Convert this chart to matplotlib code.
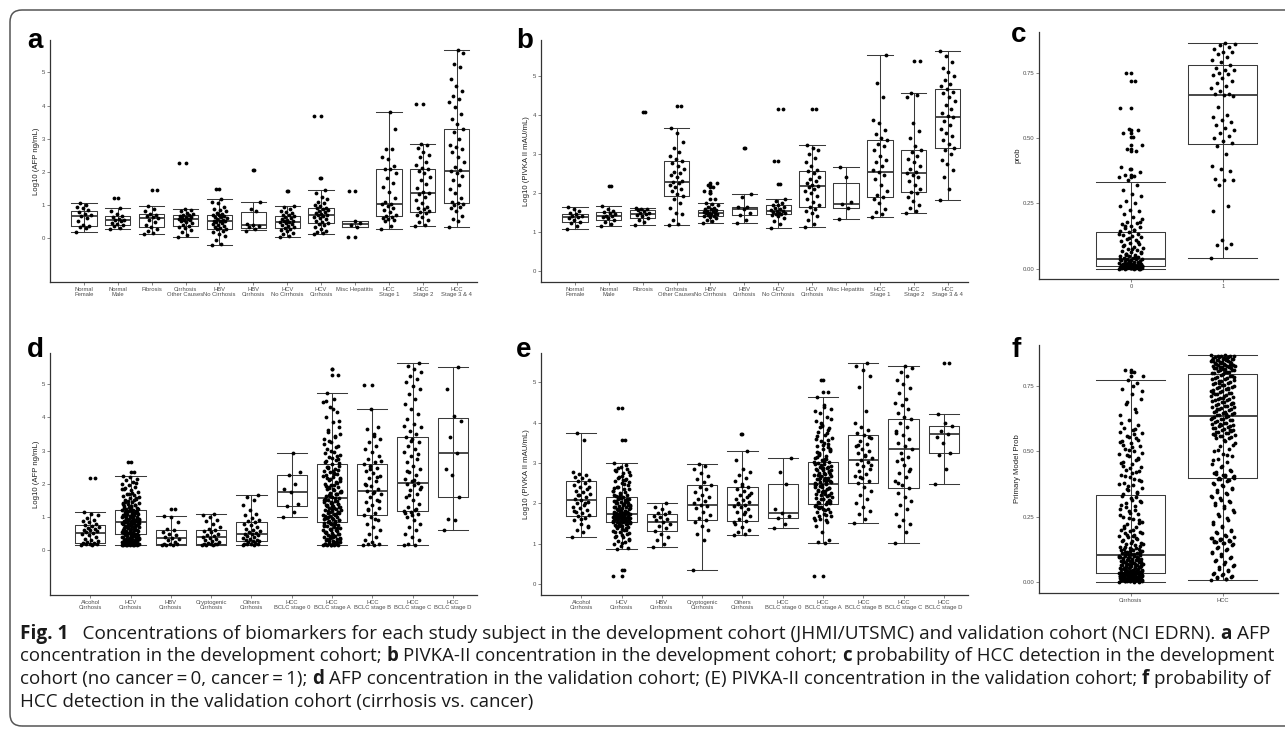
import numpy as np
import matplotlib
matplotlib.use("Agg")
import matplotlib.pyplot as plt
from matplotlib.patches import FancyBboxPatch
from matplotlib.transforms import IdentityTransform

# ---------------- DATA ----------------
a_categories = ["Normal\nFemale", "Normal\nMale", "Fibrosis", "Cirrhosis\nOther Causes", "HBV\nNo Cirrhosis",
                "HBV\nCirrhosis", "HCV\nNo Cirrhosis", "HCV\nCirrhosis", "Misc Hepatitis", "HCC\nStage 1",
                "HCC\nStage 2", "HCC\nStage 3 & 4"]
a_lo = [0.17, 0.27, 0.11, 0.03, -0.21, 0.24, 0.03, 0.13, 0.33, 0.27, 0.36, 0.32]
a_q1 = [0.36, 0.39, 0.33, 0.37, 0.28, 0.31, 0.29, 0.45, 0.33, 0.66, 0.79, 1.05]
a_med = [0.67, 0.53, 0.59, 0.56, 0.50, 0.38, 0.48, 0.69, 0.43, 1.04, 1.35, 2.03]
a_q3 = [0.82, 0.65, 0.72, 0.68, 0.70, 0.77, 0.66, 0.92, 0.52, 2.07, 2.08, 3.29]
a_hi = [1.05, 0.92, 0.96, 0.87, 1.18, 1.08, 0.98, 1.46, 0.52, 3.82, 2.83, 5.67]
a_nf = [0.17, 0.30, 0.33, 0.36, 0.40, 0.52, 0.60, 0.66, 0.68, 0.72, 0.78, 0.85, 0.90, 0.94, 1.00, 1.05]
a_nm = [0.27, 0.30, 0.36, 0.39, 0.42, 0.46, 0.50, 0.53, 0.55, 0.58, 0.62, 0.65, 0.72, 0.80, 0.92, 1.20]
a_fib = [0.11, 0.14, 0.22, 0.28, 0.33, 0.40, 0.48, 0.55, 0.59, 0.62, 0.66, 0.70, 0.72, 0.80, 0.88, 0.96, 1.45]
a_cir = [0.03, 0.10, 0.18, 0.25, 0.30, 0.34, 0.37, 0.40, 0.44, 0.48, 0.50, 0.53, 0.55, 0.56, 0.58, 0.60,
         0.62, 0.64, 0.66, 0.68, 0.70, 0.73, 0.76, 0.80, 0.84, 0.87, 2.25]
a_hbv_nc = [-0.21, -0.18, -0.05, 0.05, 0.12, 0.18, 0.22, 0.26, 0.28, 0.30, 0.33, 0.36, 0.40, 0.42, 0.45,
            0.48, 0.50, 0.50, 0.52, 0.55, 0.58, 0.60, 0.62, 0.64, 0.66, 0.68, 0.70, 0.72, 0.75, 0.80, 0.85,
            0.88, 0.95, 1.05, 1.10, 1.18, 1.48]
a_hbv_c = [0.22, 0.28, 0.32, 0.36, 0.38, 0.42, 0.80, 0.88, 1.08, 2.05]
a_hcv_nc = [0.03, 0.06, 0.12, 0.16, 0.20, 0.24, 0.28, 0.30, 0.33, 0.36, 0.40, 0.42, 0.45, 0.47, 0.48, 0.50,
            0.52, 0.55, 0.58, 0.60, 0.62, 0.65, 0.68, 0.70, 0.74, 0.78, 0.82, 0.88, 0.95, 0.98, 1.42]
a_hcv_c = [0.13, 0.15, 0.18, 0.22, 0.28, 0.32, 0.38, 0.42, 0.45, 0.48, 0.52, 0.56, 0.60, 0.64, 0.66, 0.68,
           0.70, 0.72, 0.75, 0.78, 0.82, 0.85, 0.88, 0.90, 0.92, 0.96, 1.00, 1.05, 1.10, 1.18, 1.25, 1.35,
           1.46, 1.82, 3.67]
a_misc = [0.03, 0.33, 0.40, 0.45, 0.52, 1.42]
a_hcc1 = [0.27, 0.35, 0.50, 0.55, 0.58, 0.60, 0.62, 0.66, 0.70, 0.78, 0.85, 0.92, 0.98, 1.02, 1.04, 1.08,
          1.20, 1.38, 1.55, 1.65, 1.80, 1.95, 2.07, 2.07, 2.18, 2.40, 2.45, 2.70, 2.70, 3.28, 3.82]
a_hcc2 = [0.36, 0.40, 0.48, 0.55, 0.62, 0.70, 0.76, 0.79, 0.82, 0.86, 0.90, 0.95, 1.05, 1.15, 1.25, 1.32,
          1.35, 1.40, 1.50, 1.62, 1.75, 1.85, 1.95, 2.02, 2.08, 2.10, 2.20, 2.30, 2.45, 2.52, 2.60, 2.72,
          2.80, 2.83, 4.05]
a_hcc34 = [0.32, 0.50, 0.58, 0.65, 0.80, 0.90, 0.95, 1.00, 1.04, 1.06, 1.10, 1.20, 1.35, 1.48, 1.60, 1.75,
           1.88, 1.95, 2.03, 2.05, 2.15, 2.30, 2.45, 2.60, 2.68, 2.75, 2.82, 3.00, 3.20, 3.29, 3.45, 3.60,
           3.75, 3.95, 4.10, 4.20, 4.30, 4.45, 4.60, 4.80, 5.15, 5.25, 5.60, 5.67]
a_points = [a_nf, a_nm, a_fib, a_cir, a_hbv_nc, a_hbv_c, a_hcv_nc, a_hcv_c, a_misc, a_hcc1, a_hcc2, a_hcc34]
a_outliers = [[], [1.20], [1.45], [2.25], [1.48], [2.05], [1.42], [1.82, 3.67], [0.03, 1.42], [], [4.05], []]

b_lo = [1.07, 1.15, 1.19, 1.18, 1.24, 1.24, 1.11, 1.14, 1.34, 1.38, 1.50, 1.81]
b_q1 = [1.27, 1.32, 1.35, 1.93, 1.41, 1.44, 1.45, 1.65, 1.62, 1.89, 2.03, 3.16]
b_med = [1.39, 1.40, 1.46, 2.29, 1.50, 1.60, 1.54, 2.17, 1.72, 2.54, 2.51, 3.95]
b_q3 = [1.45, 1.52, 1.56, 2.82, 1.57, 1.65, 1.68, 2.56, 2.26, 3.35, 3.09, 4.67]
b_hi = [1.63, 1.66, 1.62, 3.67, 1.75, 1.97, 1.85, 3.23, 2.67, 5.53, 4.55, 5.65]
b_nf = [1.07, 1.15, 1.22, 1.27, 1.30, 1.35, 1.38, 1.40, 1.42, 1.45, 1.50, 1.55, 1.60, 1.63]
b_nm = [1.15, 1.20, 1.26, 1.32, 1.35, 1.38, 1.40, 1.42, 1.45, 1.50, 1.52, 1.55, 1.60, 1.66, 2.18]
b_fib = [1.19, 1.25, 1.30, 1.35, 1.40, 1.44, 1.46, 1.48, 1.50, 1.54, 1.56, 1.58, 1.60, 1.62, 4.08]
b_cir = [1.18, 1.20, 1.30, 1.45, 1.50, 1.62, 1.75, 1.85, 1.93, 1.98, 2.05, 2.10, 2.15, 2.20, 2.25, 2.29,
         2.32, 2.40, 2.45, 2.50, 2.55, 2.62, 2.70, 2.78, 2.82, 2.88, 2.95, 3.05, 3.15, 3.30, 3.55, 3.67, 4.22]
b_hbv_nc = [1.24, 1.28, 1.32, 1.35, 1.38, 1.40, 1.41, 1.43, 1.45, 1.47, 1.48, 1.50, 1.50, 1.52, 1.53,
            1.55, 1.56, 1.58, 1.60, 1.62, 1.65, 1.68, 1.72, 1.75, 1.85, 2.00, 2.05, 2.15, 2.20, 2.26]
b_hbv_c = [1.24, 1.30, 1.44, 1.50, 1.60, 1.64, 1.65, 1.90, 1.97, 3.16]
b_hcv_nc = [1.11, 1.20, 1.28, 1.35, 1.40, 1.43, 1.45, 1.47, 1.49, 1.50, 1.52, 1.54, 1.55, 1.57, 1.60,
            1.62, 1.65, 1.68, 1.70, 1.75, 1.80, 1.85, 2.22, 2.83, 4.14]
b_hcv_c = [1.14, 1.20, 1.30, 1.40, 1.50, 1.55, 1.60, 1.65, 1.70, 1.78, 1.85, 1.92, 2.00, 2.05, 2.10, 2.15,
           2.17, 2.20, 2.25, 2.30, 2.35, 2.42, 2.50, 2.56, 2.60, 2.70, 2.80, 2.90, 3.00, 3.10, 3.15, 3.23, 4.15]
b_misc = [1.34, 1.62, 1.72, 1.78, 2.42, 2.67]
b_hcc1 = [1.38, 1.45, 1.52, 1.58, 1.75, 1.85, 1.89, 1.95, 2.05, 2.20, 2.35, 2.45, 2.54, 2.60, 2.70, 2.80,
          2.85, 2.95, 3.10, 3.20, 3.25, 3.35, 3.40, 3.50, 3.62, 3.80, 3.88, 4.46, 4.83, 5.53]
b_hcc2 = [1.50, 1.55, 1.62, 1.70, 1.80, 1.90, 2.00, 2.03, 2.10, 2.20, 2.30, 2.40, 2.45, 2.51, 2.55, 2.62,
          2.70, 2.80, 2.88, 2.95, 3.05, 3.09, 3.20, 3.40, 3.60, 3.80, 4.45, 4.50, 4.55, 5.37]
b_hcc34 = [1.81, 2.10, 2.40, 2.60, 2.75, 2.85, 3.00, 3.10, 3.16, 3.25, 3.35, 3.45, 3.55, 3.65, 3.75, 3.85,
           3.95, 3.98, 4.05, 4.15, 4.25, 4.35, 4.45, 4.55, 4.60, 4.67, 4.75, 4.80, 4.90, 5.00, 5.10, 5.20,
           5.35, 5.50, 5.65]
b_points = [b_nf, b_nm, b_fib, b_cir, b_hbv_nc, b_hbv_c, b_hcv_nc, b_hcv_c, b_misc, b_hcc1, b_hcc2, b_hcc34]
b_outliers = [[], [2.18], [4.08], [4.22], [1.85, 2.00, 2.05, 2.15, 2.20, 2.26], [3.16], [2.22, 2.83, 4.14],
              [4.15], [], [], [5.37], []]

c_categories = ["0", "1"]
c_lo = [0.0, 0.040]
c_q1 = [0.009, 0.477]
c_med = [0.037, 0.666]
c_q3 = [0.140, 0.778]
c_hi = [0.332, 0.864]
c_no_cancer = [0.000, 0.000, 0.001, 0.001, 0.002, 0.002, 0.003, 0.003, 0.004, 0.004, 0.005, 0.005, 0.006,
               0.006, 0.007, 0.007, 0.008, 0.008, 0.009, 0.009, 0.010, 0.010, 0.011, 0.012, 0.013, 0.014,
               0.015, 0.016, 0.017, 0.018, 0.019, 0.020, 0.021, 0.022, 0.024, 0.026, 0.028, 0.030, 0.032,
               0.034, 0.036, 0.037, 0.038, 0.040, 0.042, 0.045, 0.048, 0.050, 0.053, 0.056, 0.060, 0.064,
               0.068, 0.072, 0.076, 0.080, 0.085, 0.090, 0.095, 0.100, 0.105, 0.110, 0.115, 0.120, 0.125,
               0.130, 0.135, 0.140, 0.145, 0.150, 0.155, 0.160, 0.165, 0.170, 0.175, 0.180, 0.190, 0.200,
               0.210, 0.220, 0.225, 0.240, 0.250, 0.260, 0.280, 0.285, 0.300, 0.320, 0.340, 0.350, 0.355,
               0.360, 0.370, 0.380, 0.390, 0.450, 0.460, 0.475, 0.505, 0.520, 0.530, 0.535, 0.615, 0.720,
               0.750, 0.001, 0.003, 0.005, 0.007, 0.009, 0.012, 0.015, 0.018, 0.022, 0.027, 0.033, 0.041,
               0.052, 0.063, 0.075, 0.088, 0.102, 0.118, 0.133, 0.148, 0.162, 0.178, 0.002, 0.004, 0.006,
               0.008, 0.011, 0.014, 0.019, 0.025, 0.031, 0.039, 0.046, 0.058]
c_cancer = [0.04, 0.08, 0.09, 0.095, 0.11, 0.22, 0.24, 0.32, 0.34, 0.34, 0.345, 0.375, 0.38, 0.395, 0.44,
            0.47, 0.48, 0.49, 0.50, 0.51, 0.52, 0.53, 0.54, 0.55, 0.56, 0.57, 0.58, 0.59, 0.62, 0.66, 0.665,
            0.67, 0.67, 0.68, 0.69, 0.70, 0.71, 0.72, 0.73, 0.74, 0.745, 0.75, 0.76, 0.76, 0.77, 0.78, 0.79,
            0.80, 0.81, 0.82, 0.83, 0.83, 0.84, 0.85, 0.855, 0.86, 0.864]
c_points = [c_no_cancer, c_cancer]
c_outliers = [[0.35, 0.36, 0.38, 0.45, 0.46, 0.475, 0.505, 0.52, 0.53, 0.615, 0.72, 0.75], []]

d_categories = ["Alcohol\nCirrhosis", "HCV\nCirrhosis", "HBV\nCirrhosis", "Cryptogenic\nCirrhosis",
                "Others\nCirrhosis", "HCC\nBCLC stage 0", "HCC\nBCLC stage A", "HCC\nBCLC stage B",
                "HCC\nBCLC stage C", "HCC\nBCLC stage D"]
d_lo = [0.17, 0.17, 0.17, 0.17, 0.17, 1.01, 0.17, 0.17, 0.17, 0.60]
d_q1 = [0.23, 0.49, 0.18, 0.18, 0.28, 1.34, 0.86, 1.06, 1.18, 1.60]
d_med = [0.51, 0.84, 0.37, 0.40, 0.48, 1.74, 1.56, 1.79, 2.03, 2.93]
d_q3 = [0.75, 1.20, 0.60, 0.60, 0.84, 2.25, 2.59, 2.59, 3.41, 3.99]
d_hi = [1.14, 2.23, 1.04, 1.08, 1.65, 2.92, 4.74, 4.24, 5.62, 5.52]
d_alc = [0.17, 0.17, 0.18, 0.18, 0.20, 0.22, 0.23, 0.25, 0.28, 0.30, 0.35, 0.40, 0.45, 0.48, 0.51, 0.55,
         0.58, 0.60, 0.62, 0.65, 0.68, 0.70, 0.72, 0.75, 0.80, 0.85, 0.88, 0.92, 0.98, 1.05, 1.10, 1.14, 2.17]
d_hcv = [0.17, 0.17, 0.17, 0.17, 0.17, 0.17, 0.18, 0.19, 0.20, 0.21, 0.22, 0.23, 0.24, 0.25, 0.26, 0.27,
         0.28, 0.29, 0.30, 0.31, 0.32, 0.33, 0.34, 0.35, 0.36, 0.38, 0.40, 0.42, 0.44, 0.46, 0.48, 0.49,
         0.50, 0.52, 0.54, 0.56, 0.58, 0.60, 0.62, 0.64, 0.66, 0.68, 0.70, 0.72, 0.74, 0.76, 0.78, 0.80,
         0.82, 0.84, 0.84, 0.86, 0.88, 0.90, 0.92, 0.94, 0.96, 0.98, 1.00, 1.02, 1.04, 1.06, 1.08, 1.10,
         1.12, 1.14, 1.16, 1.18, 1.20, 1.22, 1.25, 1.28, 1.31, 1.34, 1.37, 1.40, 1.43, 1.46, 1.50, 1.54,
         1.58, 1.62, 1.66, 1.70, 1.75, 1.80, 1.85, 1.90, 1.95, 2.00, 2.05, 2.10, 2.15, 2.20, 2.23, 2.35,
         2.65, 0.19, 0.23, 0.27, 0.31, 0.35, 0.41, 0.47, 0.53, 0.57, 0.63, 0.67, 0.73, 0.77, 0.83, 0.87,
         0.93, 0.97, 1.03, 1.07, 1.13, 1.17, 1.24, 1.33, 1.45, 1.56, 1.68, 1.83, 0.20, 0.26, 0.39, 0.51,
         0.59, 0.71, 0.79, 0.91, 0.99, 1.09, 1.19, 1.29, 1.41, 0.17, 0.17, 0.18, 0.21, 0.24, 0.28, 0.32,
         0.37, 0.43, 0.45, 0.50, 0.55, 0.61, 0.65, 0.69, 0.75, 0.81, 0.85, 0.89, 0.95, 1.01, 1.05, 1.11,
         1.15, 1.21, 1.27, 1.36, 1.48, 1.60, 1.73, 1.88, 2.02, 0.18, 0.22, 0.25, 0.30, 0.34, 0.42, 0.52,
         0.62, 0.72, 0.82, 0.92, 1.02, 1.12, 1.23, 1.38, 1.52]
d_hbv = [0.17, 0.17, 0.17, 0.18, 0.18, 0.20, 0.25, 0.30, 0.35, 0.37, 0.40, 0.45, 0.50, 0.55, 0.60, 0.65,
         0.85, 1.00, 1.04, 1.25]
d_cryp = [0.17, 0.17, 0.17, 0.18, 0.18, 0.19, 0.20, 0.22, 0.25, 0.28, 0.30, 0.35, 0.38, 0.40, 0.42, 0.45,
          0.50, 0.55, 0.58, 0.60, 0.65, 0.70, 0.80, 0.88, 0.92, 1.00, 1.05, 1.08]
d_oth = [0.17, 0.17, 0.18, 0.18, 0.19, 0.20, 0.22, 0.25, 0.27, 0.28, 0.30, 0.32, 0.35, 0.38, 0.40, 0.42,
         0.45, 0.48, 0.50, 0.52, 0.55, 0.58, 0.62, 0.65, 0.70, 0.75, 0.80, 0.84, 0.88, 0.92, 0.98, 1.05,
         1.10, 1.20, 1.35, 1.50, 1.60, 1.65]
d_b0 = [1.01, 1.15, 1.34, 1.40, 1.74, 1.85, 2.00, 2.25, 2.35, 2.92]
d_ba = [0.17, 0.17, 0.17, 0.17, 0.17, 0.18, 0.20, 0.22, 0.25, 0.28, 0.30, 0.33, 0.36, 0.40, 0.43, 0.46,
        0.50, 0.53, 0.56, 0.60, 0.63, 0.66, 0.70, 0.73, 0.76, 0.80, 0.83, 0.86, 0.89, 0.92, 0.95, 0.98,
        1.01, 1.04, 1.07, 1.10, 1.13, 1.16, 1.19, 1.22, 1.25, 1.28, 1.31, 1.34, 1.37, 1.40, 1.43, 1.46,
        1.49, 1.52, 1.56, 1.60, 1.64, 1.68, 1.72, 1.76, 1.80, 1.85, 1.90, 1.95, 2.00, 2.05, 2.10, 2.15,
        2.20, 2.25, 2.30, 2.35, 2.40, 2.45, 2.50, 2.55, 2.59, 2.65, 2.72, 2.80, 2.88, 2.96, 3.05, 3.15,
        3.25, 3.35, 3.45, 3.55, 3.70, 3.85, 4.00, 4.15, 4.30, 4.45, 4.55, 4.74, 5.28, 5.45, 0.19, 0.24,
        0.31, 0.38, 0.45, 0.52, 0.58, 0.65, 0.72, 0.78, 0.85, 0.91, 0.97, 1.03, 1.09, 1.15, 1.21, 1.27,
        1.33, 1.39, 1.45, 1.51, 1.58, 1.66, 1.74, 1.83, 1.93, 2.03, 2.13, 2.23, 2.33, 2.48, 2.62, 2.78,
        2.92, 3.10, 3.30, 3.50, 0.21, 0.35, 0.48, 0.62, 0.75, 0.88, 1.00, 1.12, 1.24, 1.36, 1.48, 1.62,
        1.78, 1.97, 2.18, 2.42, 0.17, 0.18, 0.23, 0.27, 0.34, 0.41, 0.55, 0.68, 0.81, 0.94, 1.06, 1.18,
        1.30, 1.42, 1.54, 1.70, 1.87, 2.08, 2.28, 2.52, 2.75, 3.00, 3.20, 3.40, 3.62, 3.90, 4.25, 4.50,
        0.26, 0.44, 0.60, 0.79, 0.96, 1.14, 1.32, 1.50, 1.69, 1.91, 2.16, 2.38, 2.68, 2.85]
d_bb = [0.17, 0.17, 0.18, 0.20, 0.25, 0.30, 0.40, 0.50, 0.60, 0.70, 0.80, 0.90, 1.00, 1.06, 1.12, 1.20,
        1.28, 1.36, 1.44, 1.52, 1.60, 1.68, 1.75, 1.79, 1.85, 1.92, 2.00, 2.08, 2.16, 2.24, 2.32, 2.40,
        2.48, 2.55, 2.59, 2.65, 2.75, 2.85, 2.95, 3.05, 3.15, 3.25, 3.35, 3.50, 3.65, 3.70, 4.24, 4.97,
        0.95, 1.25, 1.48, 1.72, 1.95, 2.20, 2.45, 2.70, 3.45]
d_bc = [0.17, 0.17, 0.20, 0.30, 0.40, 0.50, 0.60, 0.70, 0.80, 0.90, 1.00, 1.08, 1.14, 1.18, 1.22, 1.30,
        1.40, 1.50, 1.60, 1.70, 1.80, 1.90, 1.96, 2.00, 2.03, 2.08, 2.15, 2.25, 2.35, 2.45, 2.55, 2.65,
        2.75, 2.85, 2.95, 3.05, 3.15, 3.25, 3.35, 3.41, 3.50, 3.60, 3.70, 3.80, 3.95, 4.10, 4.25, 4.40,
        4.55, 4.70, 4.85, 4.95, 5.05, 5.15, 5.25, 5.35, 5.45, 5.55, 5.62, 1.05, 1.12, 1.25, 1.65, 1.85,
        2.10, 2.40, 2.90, 3.30, 3.75]
d_bd = [0.60, 0.90, 0.95, 1.60, 2.25, 2.45, 2.93, 3.40, 3.90, 4.05, 4.85, 5.52]
d_points = [d_alc, d_hcv, d_hbv, d_cryp, d_oth, d_b0, d_ba, d_bb, d_bc, d_bd]
d_outliers = [[2.17], [2.35, 2.65], [1.25], [], [], [], [5.28, 5.45], [4.97], [], []]

e_lo = [1.16, 0.86, 0.92, 0.36, 1.22, 1.40, 1.03, 1.51, 1.03, 2.47]
e_q1 = [1.69, 1.55, 1.31, 1.60, 1.57, 1.64, 1.98, 2.50, 2.38, 3.26]
e_med = [2.09, 1.74, 1.54, 1.97, 1.97, 1.77, 2.49, 3.07, 3.34, 3.71]
e_q3 = [2.55, 2.15, 1.73, 2.45, 2.41, 2.47, 3.03, 3.69, 4.10, 3.92]
e_hi = [3.74, 3.00, 2.02, 2.98, 3.31, 3.12, 4.63, 5.47, 5.41, 4.21]
e_alc = [1.16, 1.28, 1.35, 1.42, 1.50, 1.58, 1.65, 1.69, 1.72, 1.76, 1.80, 1.84, 1.88, 1.92, 1.96, 2.00,
         2.04, 2.09, 2.12, 2.16, 2.20, 2.24, 2.28, 2.32, 2.36, 2.40, 2.45, 2.50, 2.55, 2.58, 2.62, 2.66,
         2.70, 2.74, 2.78, 3.58, 3.74, 1.45, 1.62, 1.82, 2.02, 2.22, 2.42]
e_hcv = [0.19, 0.35, 0.86, 0.90, 0.95, 1.00, 1.05, 1.08, 1.12, 1.16, 1.20, 1.24, 1.28, 1.32, 1.35, 1.38,
         1.41, 1.44, 1.46, 1.48, 1.50, 1.52, 1.54, 1.55, 1.56, 1.58, 1.59, 1.60, 1.61, 1.62, 1.63, 1.64,
         1.65, 1.66, 1.67, 1.68, 1.69, 1.70, 1.71, 1.72, 1.73, 1.74, 1.75, 1.76, 1.77, 1.78, 1.79, 1.80,
         1.82, 1.84, 1.86, 1.88, 1.90, 1.92, 1.94, 1.96, 1.98, 2.00, 2.02, 2.04, 2.06, 2.08, 2.10, 2.12,
         2.15, 2.18, 2.21, 2.25, 2.30, 2.35, 2.40, 2.45, 2.50, 2.55, 2.60, 2.65, 2.70, 2.75, 2.80, 2.85,
         2.90, 3.00, 3.57, 4.37, 1.10, 1.22, 1.30, 1.40, 1.47, 1.53, 1.57, 1.62, 1.66, 1.70, 1.75, 1.81,
         1.87, 1.93, 1.99, 2.05, 2.11, 2.20, 2.32, 2.48, 2.62, 2.78, 1.02, 1.18, 1.34, 1.51, 1.63, 1.73,
         1.85, 1.97, 2.14, 2.38, 2.58, 2.88, 1.26, 1.36, 1.43, 1.49, 1.53, 1.57, 1.60, 1.64, 1.67, 1.71,
         1.74, 1.78, 1.83, 1.89, 1.95, 2.01, 2.07, 2.13, 2.22, 2.28, 2.42, 2.52, 2.68, 2.83, 2.95, 1.45,
         1.55, 1.62, 1.69, 1.76, 1.84, 1.91, 2.03, 2.17, 2.36, 2.57]
e_hbv = [0.92, 1.00, 1.10, 1.18, 1.25, 1.31, 1.38, 1.45, 1.50, 1.54, 1.58, 1.62, 1.66, 1.70, 1.73, 1.76,
         1.80, 1.85, 1.90, 2.02]
e_cryp = [0.36, 1.10, 1.25, 1.35, 1.45, 1.55, 1.60, 1.65, 1.72, 1.80, 1.88, 1.93, 1.97, 2.00, 2.05, 2.10,
          2.15, 2.20, 2.28, 2.35, 2.42, 2.45, 2.52, 2.60, 2.68, 2.75, 2.85, 2.92, 2.98]
e_oth = [1.22, 1.25, 1.28, 1.35, 1.42, 1.50, 1.57, 1.62, 1.68, 1.74, 1.80, 1.86, 1.90, 1.94, 1.97, 2.00,
         2.04, 2.08, 2.12, 2.16, 2.20, 2.25, 2.30, 2.35, 2.41, 2.48, 2.55, 2.62, 2.70, 2.78, 2.85, 3.08,
         3.31, 3.73, 1.55, 1.78, 1.99, 2.22, 2.44]
e_b0 = [1.40, 1.48, 1.64, 1.70, 1.77, 1.85, 2.47, 2.78, 3.12]
e_ba = [0.19, 1.03, 1.05, 1.10, 1.30, 1.45, 1.55, 1.62, 1.68, 1.74, 1.80, 1.85, 1.90, 1.94, 1.98, 2.02,
        2.06, 2.10, 2.14, 2.18, 2.22, 2.26, 2.30, 2.34, 2.38, 2.42, 2.46, 2.49, 2.52, 2.55, 2.58, 2.61,
        2.64, 2.67, 2.70, 2.73, 2.76, 2.79, 2.82, 2.85, 2.88, 2.91, 2.94, 2.97, 3.00, 3.03, 3.08, 3.13,
        3.18, 3.24, 3.30, 3.36, 3.42, 3.48, 3.55, 3.62, 3.70, 3.78, 3.86, 3.95, 4.05, 4.15, 4.25, 4.35,
        4.45, 4.63, 4.77, 5.07, 1.60, 1.72, 1.88, 2.00, 2.12, 2.24, 2.36, 2.44, 2.53, 2.62, 2.71, 2.80,
        2.89, 2.99, 3.10, 3.22, 3.35, 3.50, 3.66, 3.82, 4.00, 1.65, 1.83, 2.04, 2.20, 2.32, 2.47, 2.57,
        2.68, 2.84, 3.05, 3.28, 3.58, 3.92, 4.30, 1.58, 1.70, 1.78, 1.87, 1.96, 2.04, 2.11, 2.17, 2.24,
        2.31, 2.39, 2.45, 2.51, 2.56, 2.63, 2.69, 2.75, 2.83, 2.90, 2.96, 3.02, 3.11, 3.20, 3.32, 3.45,
        3.60, 3.75, 3.90, 4.10, 4.40, 1.92, 2.08, 2.28, 2.41, 2.50, 2.60, 2.72, 2.87, 3.15, 3.40]
e_bb = [1.51, 1.62, 1.75, 1.82, 1.90, 2.00, 2.10, 2.20, 2.30, 2.40, 2.50, 2.56, 2.62, 2.68, 2.74, 2.80,
        2.86, 2.92, 2.98, 3.03, 3.07, 3.12, 3.18, 3.24, 3.30, 3.36, 3.42, 3.48, 3.55, 3.62, 3.69, 3.75,
        3.82, 3.90, 4.00, 4.30, 4.88, 5.15, 5.30, 5.40, 5.47, 2.65, 2.95, 3.20, 3.45, 3.65]
e_bc = [1.03, 1.30, 1.45, 1.50, 1.60, 1.75, 1.85, 1.95, 2.05, 2.15, 2.25, 2.38, 2.45, 2.55, 2.65, 2.75,
        2.85, 2.95, 3.05, 3.15, 3.25, 3.34, 3.42, 3.50, 3.60, 3.70, 3.80, 3.90, 4.00, 4.10, 4.15, 4.25,
        4.35, 4.45, 4.50, 4.60, 4.75, 4.85, 4.95, 5.05, 5.15, 5.25, 5.35, 5.41, 2.50, 2.80, 3.10, 3.75]
e_bd = [2.47, 2.85, 3.20, 3.26, 3.50, 3.65, 3.71, 3.80, 3.92, 4.00, 4.21, 5.47]
e_points = [e_alc, e_hcv, e_hbv, e_cryp, e_oth, e_b0, e_ba, e_bb, e_bc, e_bd]
e_outliers = [[], [0.19, 0.35, 3.57, 4.37], [], [], [3.73], [], [0.19, 4.77, 5.07], [], [], [5.47]]

f_categories = ["Cirrhosis", "HCC"]
f_lo = [0.0, 0.005]
f_q1 = [0.033, 0.399]
f_med = [0.101, 0.635]
f_q3 = [0.332, 0.795]
f_hi = [0.772, 0.868]
f_cirrhosis = [0.000, 0.001, 0.002, 0.003, 0.004, 0.005, 0.006, 0.007, 0.008, 0.009, 0.010, 0.011, 0.012,
               0.013, 0.014, 0.015, 0.016, 0.017, 0.018, 0.019, 0.020, 0.021, 0.022, 0.023, 0.024, 0.025,
               0.026, 0.027, 0.028, 0.029, 0.030, 0.031, 0.032, 0.033, 0.034, 0.035, 0.036, 0.037, 0.038,
               0.039, 0.040, 0.042, 0.044, 0.046, 0.048, 0.050, 0.052, 0.054, 0.056, 0.058, 0.060, 0.062,
               0.064, 0.066, 0.068, 0.070, 0.072, 0.074, 0.076, 0.078, 0.080, 0.082, 0.084, 0.086, 0.088,
               0.090, 0.092, 0.094, 0.096, 0.098, 0.100, 0.103, 0.106, 0.109, 0.112, 0.115, 0.118, 0.121,
               0.124, 0.127, 0.130, 0.135, 0.140, 0.145, 0.150, 0.155, 0.160, 0.165, 0.170, 0.175, 0.180,
               0.185, 0.190, 0.195, 0.200, 0.210, 0.220, 0.230, 0.240, 0.250, 0.260, 0.270, 0.280, 0.290,
               0.300, 0.310, 0.320, 0.330, 0.340, 0.350, 0.360, 0.370, 0.380, 0.390, 0.400, 0.410, 0.420,
               0.430, 0.440, 0.450, 0.460, 0.470, 0.480, 0.490, 0.500, 0.510, 0.520, 0.530, 0.540, 0.550,
               0.560, 0.570, 0.580, 0.590, 0.600, 0.620, 0.640, 0.660, 0.680, 0.700, 0.720, 0.740, 0.760,
               0.772, 0.790, 0.805, 0.810, 0.001, 0.003, 0.005, 0.007, 0.009, 0.011, 0.013, 0.015, 0.017,
               0.019, 0.021, 0.023, 0.025, 0.027, 0.029, 0.031, 0.035, 0.039, 0.043, 0.047, 0.051, 0.055,
               0.059, 0.063, 0.067, 0.071, 0.075, 0.079, 0.083, 0.087, 0.091, 0.095, 0.099, 0.104, 0.110,
               0.116, 0.122, 0.128, 0.002, 0.004, 0.006, 0.008, 0.012, 0.016, 0.024, 0.032, 0.045, 0.057,
               0.069, 0.081, 0.093, 0.107, 0.143, 0.175, 0.205, 0.235, 0.265, 0.295, 0.325, 0.355, 0.385,
               0.415, 0.445, 0.475, 0.505, 0.535, 0.565, 0.133, 0.138, 0.148, 0.158, 0.168, 0.178, 0.188,
               0.198, 0.215, 0.225, 0.245, 0.255, 0.275, 0.285, 0.305, 0.315, 0.335, 0.345, 0.365, 0.375,
               0.395, 0.405, 0.425, 0.435, 0.455, 0.465, 0.485, 0.495, 0.515, 0.525, 0.545, 0.555, 0.575,
               0.585, 0.003, 0.006, 0.010, 0.014, 0.018, 0.022, 0.026, 0.030, 0.034, 0.038, 0.041, 0.049,
               0.053, 0.061, 0.065, 0.073, 0.077, 0.085, 0.089, 0.097, 0.105, 0.113, 0.119, 0.125, 0.610,
               0.650, 0.690, 0.730, 0.750]
f_hcc = [0.005, 0.010, 0.015, 0.020, 0.025, 0.030, 0.040, 0.050, 0.060, 0.070, 0.080, 0.090, 0.100, 0.110,
         0.120, 0.130, 0.140, 0.150, 0.155, 0.160, 0.165, 0.170, 0.180, 0.190, 0.200, 0.215, 0.230, 0.245,
         0.260, 0.275, 0.290, 0.300, 0.310, 0.320, 0.330, 0.340, 0.350, 0.360, 0.370, 0.380, 0.390, 0.399,
         0.405, 0.410, 0.420, 0.430, 0.440, 0.450, 0.460, 0.470, 0.480, 0.490, 0.500, 0.510, 0.520, 0.530,
         0.540, 0.550, 0.555, 0.560, 0.565, 0.570, 0.575, 0.580, 0.585, 0.590, 0.595, 0.600, 0.605, 0.610,
         0.615, 0.620, 0.625, 0.630, 0.635, 0.640, 0.645, 0.650, 0.655, 0.660, 0.665, 0.670, 0.675, 0.680,
         0.685, 0.690, 0.695, 0.700, 0.705, 0.710, 0.715, 0.720, 0.725, 0.730, 0.735, 0.740, 0.745, 0.750,
         0.755, 0.760, 0.765, 0.770, 0.775, 0.780, 0.785, 0.790, 0.795, 0.800, 0.805, 0.810, 0.812, 0.815,
         0.818, 0.820, 0.822, 0.825, 0.828, 0.830, 0.832, 0.835, 0.838, 0.840, 0.842, 0.845, 0.848, 0.850,
         0.852, 0.855, 0.858, 0.860, 0.862, 0.865, 0.868, 0.152, 0.158, 0.162, 0.168, 0.385, 0.395, 0.402,
         0.408, 0.415, 0.552, 0.558, 0.562, 0.568, 0.572, 0.578, 0.582, 0.588, 0.592, 0.598, 0.602, 0.608,
         0.612, 0.618, 0.622, 0.628, 0.632, 0.638, 0.642, 0.648, 0.652, 0.658, 0.662, 0.668, 0.672, 0.678,
         0.682, 0.688, 0.692, 0.698, 0.702, 0.708, 0.712, 0.718, 0.722, 0.728, 0.732, 0.738, 0.742, 0.748,
         0.752, 0.758, 0.762, 0.768, 0.772, 0.778, 0.782, 0.788, 0.792, 0.798, 0.802, 0.808, 0.811, 0.814,
         0.817, 0.821, 0.824, 0.827, 0.831, 0.834, 0.837, 0.841, 0.844, 0.847, 0.851, 0.854, 0.857, 0.861,
         0.864, 0.866, 0.867, 0.012, 0.018, 0.022, 0.028, 0.035, 0.045, 0.055, 0.065, 0.075, 0.085, 0.095,
         0.105, 0.115, 0.125, 0.135, 0.145, 0.148, 0.153, 0.157, 0.161, 0.166, 0.175, 0.185, 0.195, 0.208,
         0.222, 0.238, 0.252, 0.268, 0.282, 0.295, 0.305, 0.315, 0.325, 0.335, 0.345, 0.355, 0.365, 0.375,
         0.388, 0.392, 0.398, 0.404, 0.412, 0.425, 0.445, 0.465, 0.485, 0.505, 0.525, 0.545, 0.563, 0.583,
         0.603, 0.623, 0.643, 0.663, 0.683, 0.703, 0.723, 0.743, 0.763, 0.783, 0.803, 0.819, 0.829, 0.839,
         0.849, 0.859, 0.863]
f_points = [f_cirrhosis, f_hcc]
f_outliers = [[0.790, 0.805, 0.810], []]

caption_lines = [
    [("Fig. 1", True), ("\u2002Concentrations of biomarkers for each study subject in the development cohort (JHMI/UTSMC) and validation cohort (NCI EDRN).", False), ("a", True), ("AFP", False)],
    [("concentration in the development cohort;", False), ("b", True), ("PIVKA-II concentration in the development cohort;", False), ("c", True), ("probability of HCC detection in the development", False)],
    [("cohort (no cancer\u2009=\u20090, cancer\u2009=\u20091);", False), ("d", True), ("AFP concentration in the validation cohort; (E) PIVKA-II concentration in the validation cohort;", False), ("f", True), ("probability of", False)],
    [("HCC detection in the validation cohort (cirrhosis vs. cancer)", False)],
]

# ---------------- LAYOUT ----------------
W, H = 1285, 730
fig = plt.figure(figsize=(W / 100, H / 100), dpi=100)
fig.patch.set_facecolor("white")
SANS = ["Liberation Sans", "DejaVu Sans"]
BOXC = "#3a3a3a"
TICKC = "#4d4d4d"


def add_ax(l, t, r, b):
    return fig.add_axes([l / W, 1 - b / H, (r - l) / W, (b - t) / H])


def jitter(n, w):
    k = np.arange(n)
    return ((k * 0.6180339887) % 1.0 - 0.5) * 2 * w


def panel(box, cats, lo, q1, med, q3, hi, pts, outs, xlim, ylim, yticks, ytl, ylabel, jw, lab_off):
    l, t, r, b = box
    ax = add_ax(l, t, r, b)
    pos = np.arange(1, len(cats) + 1)
    stats = [dict(med=med[i], q1=q1[i], q3=q3[i], whislo=lo[i], whishi=hi[i], fliers=[])
             for i in range(len(cats))]
    ax.bxp(stats, positions=pos, widths=0.75, capwidths=0.75, showfliers=False,
           boxprops=dict(color=BOXC, linewidth=0.75),
           whiskerprops=dict(color=BOXC, linewidth=0.75),
           capprops=dict(color=BOXC, linewidth=0.75),
           medianprops=dict(color=BOXC, linewidth=1.3), manage_ticks=False)
    ax.vlines(pos, q1, q3, color=BOXC, linewidth=0.75)
    for i, p in enumerate(pts):
        ax.scatter(pos[i] + jitter(len(p), jw), p, s=7.5, c="black", linewidths=0, zorder=3)
    for i, o in enumerate(outs):
        if o:
            ax.scatter(np.full(len(o), pos[i]), o, s=7.5, c="black", linewidths=0, zorder=3)
    ax.set_xlim(*xlim)
    ax.set_ylim(*ylim)
    ax.set_xticks(pos)
    ax.set_xticklabels(cats, fontsize=4.2, color=TICKC, linespacing=1.1, family=SANS)
    ax.set_yticks(yticks)
    ax.set_yticklabels(ytl, fontsize=4.3, color=TICKC, family=SANS)
    ax.tick_params(length=2, width=0.5, color="#555555", pad=1.5)
    for s in ("top", "right"):
        ax.spines[s].set_visible(False)
    for s in ("left", "bottom"):
        ax.spines[s].set_color("#333333")
        ax.spines[s].set_linewidth(0.9)
    ax.set_ylabel(ylabel, fontsize=5.6, color="#222222", family=SANS)
    ax.yaxis.set_label_coords(lab_off / (r - l), 0.5)
    return ax


panel((50, 40, 477, 282), a_categories, a_lo, a_q1, a_med, a_q3, a_hi, a_points, a_outliers,
      (0.0, 12.6), (-1.33, 5.98), [0, 1, 2, 3, 4, 5], ["0", "1", "2", "3", "4", "5"],
      "Log10 (AFP ng/mL)", 0.22, -10)
panel((541, 40, 968, 282), a_categories, b_lo, b_q1, b_med, b_q3, b_hi, b_points, b_outliers,
      (0.0, 12.6), (-0.28, 5.92), [0, 1, 2, 3, 4, 5], ["0", "1", "2", "3", "4", "5"],
      "Log10 (PIVKA II mAU/mL)", 0.22, -10.5)
panel((1039, 32, 1278, 279), c_categories, c_lo, c_q1, c_med, c_q3, c_hi, c_points, c_outliers,
      (0.0, 2.6), (-0.039, 0.906), [0, 0.25, 0.5, 0.75], ["0.00", "0.25", "0.50", "0.75"],
      "prob", 0.13, -17)
panel((50, 353, 477, 595), d_categories, d_lo, d_q1, d_med, d_q3, d_hi, d_points, d_outliers,
      (0.0, 10.6), (-1.34, 5.93), [0, 1, 2, 3, 4, 5], ["0", "1", "2", "3", "4", "5"],
      "Log10 (AFP ng/mL)", 0.22, -10.5)
panel((541, 353, 968, 595), d_categories, e_lo, e_q1, e_med, e_q3, e_hi, e_points, e_outliers,
      (0.0, 10.6), (-0.27, 5.73), [0, 1, 2, 3, 4, 5], ["0", "1", "2", "3", "4", "5"],
      "Log10 (PIVKA II mAU/mL)", 0.22, -10.5)
panel((1039, 345, 1278, 593), f_categories, f_lo, f_q1, f_med, f_q3, f_hi, f_points, f_outliers,
      (0.0, 2.6), (-0.043, 0.907), [0, 0.25, 0.5, 0.75], ["0.00", "0.25", "0.50", "0.75"],
      "Primary Model Prob", 0.13, -18)

# panel letters
for letter, x, yb in [("a", 27, 48), ("b", 516, 48), ("c", 1011, 42),
                      ("d", 27, 357), ("e", 516, 357), ("f", 1011, 357)]:
    fig.text(x / W, 1 - yb / H, letter, fontsize=20, fontweight="bold", family=SANS,
             ha="left", va="baseline", color="black")

# frame
frame = FancyBboxPatch((10, H - 726), 1300, 716, boxstyle="round,pad=0,rounding_size=12",
                       transform=IdentityTransform(), facecolor="none", edgecolor="#555555",
                       linewidth=1.1)
fig.add_artist(frame)

# caption
CAPF = ["Open Sans", "DejaVu Sans"]
renderer = fig.canvas.get_renderer()


def tw(text, bold, fs):
    t = fig.text(0, 0, text, fontsize=fs, fontweight="bold" if bold else "normal", family=CAPF)
    w = t.get_window_extent(renderer).width
    t.remove()
    return w


def space_w(fs):
    return tw("a a", False, fs) - tw("aa", False, fs)


def line_width(segs, fs):
    return sum(tw(s, bd, fs) for s, bd in segs) + space_w(fs) * (len(segs) - 1)


x0 = 20
targets = [1268 - x0, 1267 - x0, 1264 - x0, None]
baselines = [639, 661, 684, 707]
fs_used = 12.0
for segs, tgt, yb in zip(caption_lines, targets, baselines):
    if tgt is not None:
        fs_used = 12.0 * tgt / line_width(segs, 12.0)
    sp = space_w(fs_used)
    x = x0
    for s, bd in segs:
        fig.text(x / W, 1 - yb / H, s, fontsize=fs_used, fontweight="bold" if bd else "normal",
                 family=CAPF, ha="left", va="baseline", color="#1a1a1a")
        x += tw(s, bd, fs_used) + sp

fig.savefig("out.png", dpi=100)
